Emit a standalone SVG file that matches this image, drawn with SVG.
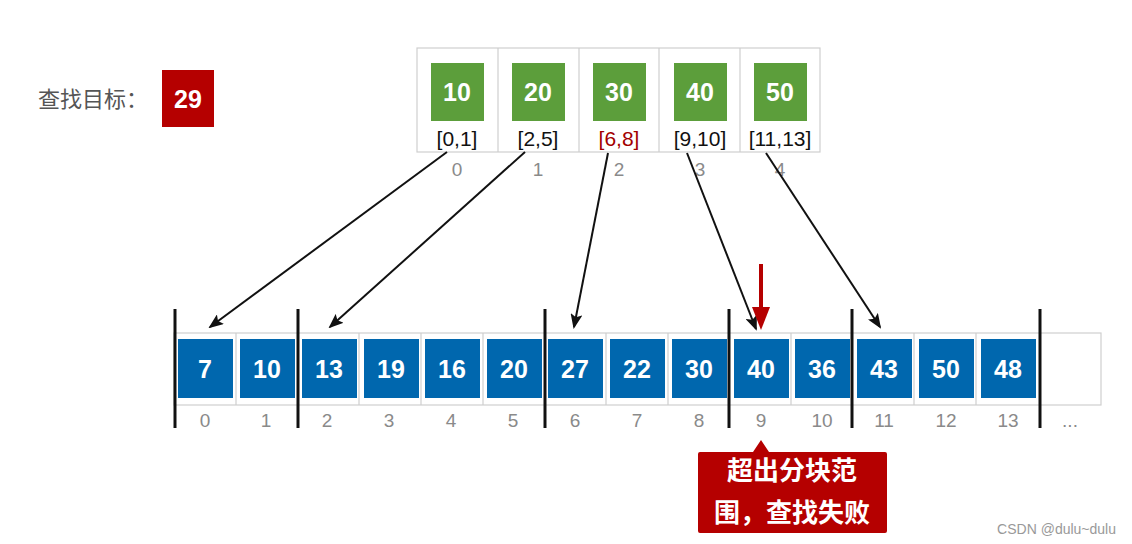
<svg xmlns="http://www.w3.org/2000/svg" width="1132" height="544" viewBox="0 0 1132 544">
<style>
text{font-family:"Liberation Sans","Noto Sans CJK SC",sans-serif}
.g{fill:#5c9e3b}
.b{fill:#0067ae}
.num{fill:#fff;font-weight:bold;font-size:25px;text-anchor:middle}
.rng{fill:#111;font-size:21px;text-anchor:middle}
.idx{fill:#8a8a8a;font-size:19px;text-anchor:middle}
.cell{fill:#fff;stroke:#cfcfcf;stroke-width:1.2}
.sep{stroke:#111;stroke-width:3}
.con{stroke:#111;stroke-width:2;fill:none;marker-end:url(#ah)}
</style>
<defs>
<marker id="ah" markerWidth="15" markerHeight="12" refX="13" refY="6" orient="auto" markerUnits="userSpaceOnUse">
<path d="M0,0 L15,6 L0,12 L3,6 Z" fill="#111"/>
</marker>
</defs>
<rect width="1132" height="544" fill="#fff"/>
<g id="target">
<text x="38" y="107" font-size="22" fill="#555">查找目标：</text>
<rect x="162" y="70" width="52" height="57" fill="#b50000"/>
<text x="188" y="108" class="num">29</text>
</g>
<g id="index-table">
<rect x="417" y="48" width="403" height="104" class="cell"/>
<line x1="498" y1="48" x2="498" y2="152" stroke="#cfcfcf" stroke-width="1.2"/>
<line x1="579" y1="48" x2="579" y2="152" stroke="#cfcfcf" stroke-width="1.2"/>
<line x1="659" y1="48" x2="659" y2="152" stroke="#cfcfcf" stroke-width="1.2"/>
<line x1="740" y1="48" x2="740" y2="152" stroke="#cfcfcf" stroke-width="1.2"/>
<g id="idx0"><rect x="431" y="63" width="53" height="58" class="g"/><text x="457" y="101" class="num">10</text><text x="457" y="146" class="rng">[0,1]</text><text x="457" y="176" class="idx">0</text></g>
<g id="idx1"><rect x="512" y="63" width="53" height="58" class="g"/><text x="538" y="101" class="num">20</text><text x="538" y="146" class="rng">[2,5]</text><text x="538" y="176" class="idx">1</text></g>
<g id="idx2"><rect x="593" y="63" width="53" height="58" class="g"/><text x="619" y="101" class="num">30</text><text x="619" y="146" class="rng" style="fill:#a30000">[6,8]</text><text x="619" y="176" class="idx">2</text></g>
<g id="idx3"><rect x="674" y="63" width="53" height="58" class="g"/><text x="700" y="101" class="num">40</text><text x="700" y="146" class="rng">[9,10]</text><text x="700" y="176" class="idx">3</text></g>
<g id="idx4"><rect x="754" y="63" width="53" height="58" class="g"/><text x="780" y="101" class="num">50</text><text x="780" y="146" class="rng">[11,13]</text><text x="780" y="176" class="idx">4</text></g>
</g>
<g id="array">
<rect x="174" y="333" width="927" height="72" class="cell"/>
<g stroke="#cfcfcf" stroke-width="1.2">
<line x1="236" y1="333" x2="236" y2="405"/><line x1="359" y1="333" x2="359" y2="405"/><line x1="421" y1="333" x2="421" y2="405"/><line x1="483" y1="333" x2="483" y2="405"/><line x1="606" y1="333" x2="606" y2="405"/><line x1="668" y1="333" x2="668" y2="405"/><line x1="791" y1="333" x2="791" y2="405"/><line x1="914" y1="333" x2="914" y2="405"/><line x1="976" y1="333" x2="976" y2="405"/>
</g>
<g id="a0"><rect x="178" y="339" width="55" height="59" class="b"/><text x="205" y="378" class="num">7</text><text x="205" y="427" class="idx">0</text></g>
<g id="a1"><rect x="240" y="339" width="55" height="59" class="b"/><text x="267" y="378" class="num">10</text><text x="266" y="427" class="idx">1</text></g>
<g id="a2"><rect x="302" y="339" width="55" height="59" class="b"/><text x="329" y="378" class="num">13</text><text x="327" y="427" class="idx">2</text></g>
<g id="a3"><rect x="364" y="339" width="55" height="59" class="b"/><text x="391" y="378" class="num">19</text><text x="389" y="427" class="idx">3</text></g>
<g id="a4"><rect x="425" y="339" width="55" height="59" class="b"/><text x="452" y="378" class="num">16</text><text x="451" y="427" class="idx">4</text></g>
<g id="a5"><rect x="487" y="339" width="55" height="59" class="b"/><text x="514" y="378" class="num">20</text><text x="513" y="427" class="idx">5</text></g>
<g id="a6"><rect x="548" y="339" width="55" height="59" class="b"/><text x="575" y="378" class="num">27</text><text x="575" y="427" class="idx">6</text></g>
<g id="a7"><rect x="610" y="339" width="55" height="59" class="b"/><text x="637" y="378" class="num">22</text><text x="637" y="427" class="idx">7</text></g>
<g id="a8"><rect x="672" y="339" width="55" height="59" class="b"/><text x="699" y="378" class="num">30</text><text x="699" y="427" class="idx">8</text></g>
<g id="a9"><rect x="734" y="339" width="55" height="59" class="b"/><text x="761" y="378" class="num">40</text><text x="761" y="427" class="idx">9</text></g>
<g id="a10"><rect x="795" y="339" width="55" height="59" class="b"/><text x="822" y="378" class="num">36</text><text x="822" y="427" class="idx">10</text></g>
<g id="a11"><rect x="857" y="339" width="55" height="59" class="b"/><text x="884" y="378" class="num">43</text><text x="884" y="427" class="idx">11</text></g>
<g id="a12"><rect x="919" y="339" width="55" height="59" class="b"/><text x="946" y="378" class="num">50</text><text x="946" y="427" class="idx">12</text></g>
<g id="a13"><rect x="981" y="339" width="55" height="59" class="b"/><text x="1008" y="378" class="num">48</text><text x="1008" y="427" class="idx">13</text></g>
<text x="1070" y="427" class="idx">...</text>
</g>
<g id="separators">
<line x1="175" y1="309" x2="175" y2="428" class="sep"/>
<line x1="298" y1="309" x2="298" y2="428" class="sep"/>
<line x1="545" y1="309" x2="545" y2="428" class="sep"/>
<line x1="729" y1="309" x2="729" y2="428" class="sep"/>
<line x1="852" y1="309" x2="852" y2="428" class="sep"/>
<line x1="1040" y1="309" x2="1040" y2="428" class="sep"/>
</g>
<g id="connectors">
<line x1="447" y1="152" x2="210" y2="327" class="con"/>
<line x1="525" y1="152" x2="330" y2="327" class="con"/>
<line x1="608" y1="153" x2="574" y2="327" class="con"/>
<line x1="687" y1="153" x2="756" y2="329" class="con"/>
<line x1="766" y1="153" x2="880" y2="327" class="con"/>
<line x1="761" y1="264" x2="761" y2="310" stroke="#b50000" stroke-width="4"/>
<path d="M752,307 L770,307 L761,330 Z" fill="#b50000"/>
</g>
<g id="callout">
<path d="M700,452 L753,452 L761,440 L769,452 L885,452 Q887,452 887,454 L887,531 Q887,533 885,533 L700,533 Q698,533 698,531 L698,454 Q698,452 700,452 Z" fill="#b50000"/>
<text x="792" y="480" font-size="26" font-weight="bold" fill="#fff" text-anchor="middle">超出分块范</text>
<text x="792" y="522" font-size="26" font-weight="bold" fill="#fff" text-anchor="middle">围，查找失败</text>
</g>
<text x="1116" y="534" font-size="14" fill="#999" text-anchor="end">CSDN @dulu~dulu</text>
</svg>
